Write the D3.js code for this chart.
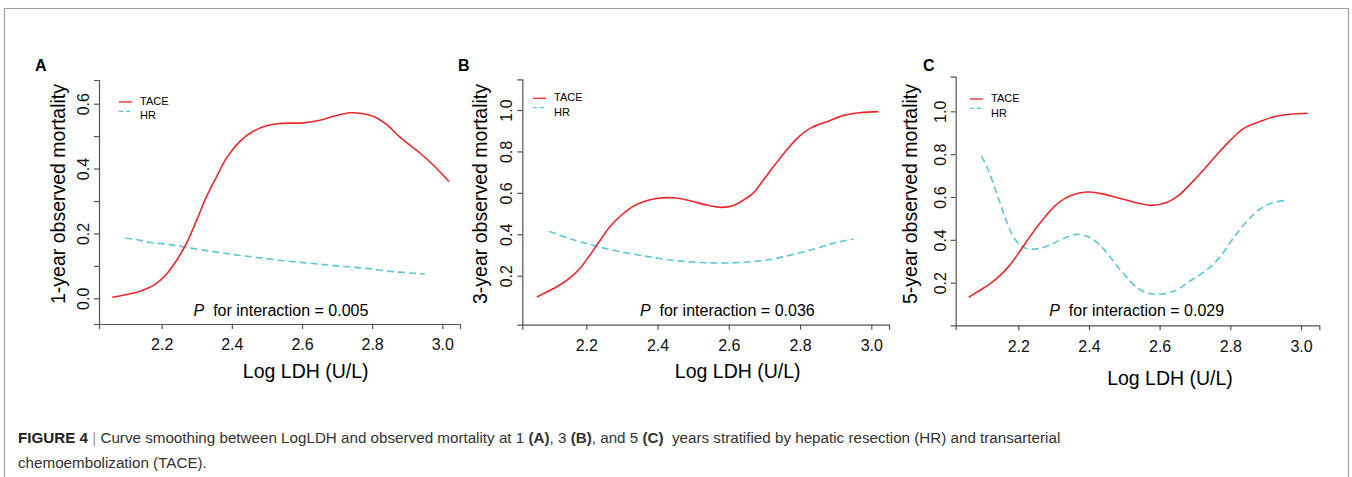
<!DOCTYPE html>
<html>
<head>
<meta charset="UTF-8">
<title>Curve smoothing between LogLDH and observed mortality</title>
<script src="https://d3js.org/d3.v7.min.js"></script>
<style>
body { margin: 0; background: #fff; }
svg { display: block; font-family: "Liberation Sans", Arial, sans-serif; }
</style>
</head>
<body>
<figure class="chart" style="margin:0"></figure>

<script type="text/javascript">

/* Data: Log LDH (U/L) vs observed mortality */
var xTicks = [2.2, 2.4, 2.6, 2.8, 3.0];
var yTicksA = [0, 0.1, 0.2, 0.3, 0.4, 0.5, 0.6];
var yTicksBC = [0.2, 0.4, 0.6, 0.8, 1.0];

var taceA = [[2.059,0.003],[2.100,0.012],[2.138,0.022],[2.181,0.043],[2.214,0.075],[2.243,0.118],
	[2.271,0.170],[2.300,0.242],[2.328,0.314],[2.357,0.376],[2.385,0.433],[2.423,0.484],[2.461,0.515],
	[2.499,0.532],[2.537,0.539],[2.604,0.541],[2.651,0.549],[2.689,0.561],[2.737,0.572],[2.770,0.570],
	[2.803,0.561],[2.841,0.536],[2.879,0.497],[2.936,0.448],[2.974,0.411],[3.019,0.360]];
var hrA = [[2.096,0.185],[2.134,0.180],[2.167,0.172],[2.214,0.167],[2.271,0.157],[2.347,0.144],
	[2.404,0.135],[2.471,0.126],[2.547,0.116],[2.623,0.108],[2.699,0.100],[2.784,0.092],[2.860,0.082],
	[2.950,0.075]];

var taceB = [[2.061,0.097],[2.089,0.121],[2.121,0.150],[2.154,0.190],[2.182,0.235],[2.210,0.299],
	[2.238,0.369],[2.266,0.436],[2.299,0.493],[2.327,0.530],[2.360,0.557],[2.397,0.573],[2.444,0.576],
	[2.491,0.562],[2.538,0.541],[2.580,0.530],[2.613,0.539],[2.641,0.565],[2.669,0.600],[2.697,0.662],
	[2.725,0.726],[2.762,0.806],[2.795,0.868],[2.833,0.916],[2.875,0.943],[2.922,0.974],[2.968,0.987],
	[3.020,0.992]];
var hrB = [[2.096,0.414],[2.145,0.383],[2.192,0.359],[2.257,0.330],[2.323,0.307],[2.388,0.288],
	[2.454,0.272],[2.519,0.264],[2.585,0.261],[2.650,0.266],[2.716,0.278],[2.781,0.303],[2.847,0.332],
	[2.903,0.361],[2.950,0.377]];

var taceC = [[2.060,0.132],[2.087,0.160],[2.115,0.189],[2.148,0.233],[2.176,0.282],[2.205,0.348],
	[2.233,0.415],[2.261,0.477],[2.290,0.535],[2.318,0.578],[2.351,0.608],[2.393,0.623],[2.431,0.617],
	[2.478,0.598],[2.525,0.577],[2.577,0.561],[2.620,0.574],[2.653,0.606],[2.686,0.659],[2.724,0.726],
	[2.761,0.796],[2.799,0.863],[2.837,0.919],[2.884,0.952],[2.922,0.974],[2.969,0.986],[3.019,0.991]];
var hrC = [[2.096,0.791],[2.115,0.726],[2.139,0.617],[2.162,0.508],[2.186,0.415],[2.209,0.371],
	[2.233,0.357],[2.266,0.362],[2.299,0.384],[2.337,0.412],[2.370,0.426],[2.403,0.410],[2.431,0.376],
	[2.459,0.321],[2.497,0.244],[2.535,0.178],[2.572,0.150],[2.610,0.147],[2.648,0.166],[2.686,0.208],
	[2.733,0.259],[2.771,0.321],[2.808,0.407],[2.846,0.485],[2.884,0.544],[2.922,0.575],[2.952,0.583]];

var pValues = ['0.005', '0.036', '0.029'];
var yTitles = ['1-year observed mortality', '3-year observed mortality', '5-year observed mortality'];

/* Global variables */
var W = 1352, H = 477;
var red = '#f0282e', cyan = '#5ec6dc', axisCol = '#555';

// per panel layout: pixel anchors for x=2.2/3.0 and two y ticks, axis extents
var panels = [
	{ label: 'A', tace: taceA, hr: hrA, yTicks: yTicksA, yRef: [0, 0.6], yPix: [298.3, 103.7],
	  xPix: [161.7, 442.3], left: 99, right: 460, top: 80, bottom: 324,
	  yTitleX: 58, xTitle: [305.7, 378], pX: 281, labelX: 35, legX: 119, legY: 102, legGap: 14 },
	{ label: 'B', tace: taceB, hr: hrB, yTicks: yTicksBC, yRef: [0.2, 1.0], yPix: [275.7, 110],
	  xPix: [586.3, 871.3], left: 522.3, right: 889, top: 79.3, bottom: 324.7,
	  yTitleX: 480, xTitle: [737.7, 378], pX: 727.3, labelX: 458, legX: 533, legY: 98.3, legGap: 15 },
	{ label: 'C', tace: taceC, hr: hrC, yTicks: yTicksBC, yRef: [0.2, 1.0], yPix: [282.7, 111.3],
	  xPix: [1018.3, 1301], left: 955.7, right: 1319.3, top: 76.7, bottom: 325.3,
	  yTitleX: 910, xTitle: [1170, 384.5], pX: 1136.7, labelX: 923, legX: 970, legY: 99, legGap: 15 }
];

/* Functions */

function draw_canvas() {
	var svg = d3.select('figure')
		.append('svg')
		.attr('width', W)
		.attr('height', H)

	// figure frame (no bottom edge)
	svg.append('path')
		.attr('d', 'M4.5,' + H + 'V8.5H1348.5V' + H)
		.style('fill', 'none')
		.style('stroke', '#a0a0a0')
		.style('stroke-width', 1.2)
	return svg
}

function full_scale(refDomain, refRange, a, b) {
	var s = d3.scaleLinear().domain(refDomain).range(refRange)
	return d3.scaleLinear().domain([s.invert(a), s.invert(b)]).range([a, b])
}

function draw_panel(svg, p, i) {
	var x = full_scale([2.2, 3.0], p.xPix, p.left, p.right)
	var y = full_scale(p.yRef, p.yPix, p.bottom, p.top)
	var g = svg.append('g')

	var xAxis = g.append('g')
		.attr('transform', 'translate(0,' + p.bottom + ')')
		.call(d3.axisBottom(x).tickValues(xTicks).tickSizeOuter(0).tickSize(5).tickPadding(10)
			.tickFormat(d3.format('.1f')))
	var yAxis = g.append('g')
		.attr('transform', 'translate(' + p.left + ',0)')
		.call(d3.axisLeft(y).tickValues(p.yTicks).tickSizeOuter(0).tickSize(5)
			.tickFormat(function(d) { return (Math.round(d * 10) % 2 == 0) ? d3.format('.1f')(d) : ''; }))

	g.selectAll('.domain, .tick line').style('stroke', axisCol).style('stroke-width', 1.2)
	g.selectAll('.tick text').style('font-size', '16px').style('fill', '#111')
		.style('font-family', '"Liberation Sans", Arial, sans-serif')
	yAxis.selectAll('.tick text')
		.attr('x', null).attr('dy', null)
		.attr('transform', 'translate(-15.7,0) rotate(-90)')
		.attr('dominant-baseline', 'central')
		.style('text-anchor', 'middle')

	// axis titles
	g.append('text')
		.attr('transform', 'translate(' + p.yTitleX + ',194) rotate(-90)')
		.attr('text-anchor', 'middle')
		.attr('dominant-baseline', 'central')
		.style('font-size', '19.5px')
		.text(yTitles[i])
	g.append('text')
		.attr('x', p.xTitle[0]).attr('y', p.xTitle[1])
		.attr('text-anchor', 'middle')
		.style('font-size', '19.5px')
		.text('Log LDH (U/L)')

	// curves
	var line = d3.line()
		.x(function(d) { return x(d[0]); })
		.y(function(d) { return y(d[1]); })
		.curve(d3.curveCatmullRom)
	g.append('path').datum(p.hr).attr('d', line)
		.style('fill', 'none').style('stroke', cyan).style('stroke-width', 1.6)
		.style('stroke-dasharray', '7,4')
	g.append('path').datum(p.tace).attr('d', line)
		.style('fill', 'none').style('stroke', red).style('stroke-width', 1.6)

	// legend
	var leg = [['TACE', red, null], ['HR', cyan, '4,3']]
	leg.forEach(function(l, k) {
		g.append('line')
			.attr('x1', p.legX).attr('x2', p.legX + 13)
			.attr('y1', p.legY + k * 9.3).attr('y2', p.legY + k * 9.3)
			.style('stroke', l[1]).style('stroke-width', 1.3)
			.style('stroke-dasharray', l[2])
		g.append('text')
			.attr('x', p.legX + 21).attr('y', p.legY - 1.5 + k * p.legGap)
			.attr('dominant-baseline', 'central')
			.style('font-size', '11px')
			.text(l[0])
	})

	// interaction p-value
	var pt = g.append('text')
		.attr('x', p.pX).attr('y', 310)
		.attr('text-anchor', 'middle')
		.attr('dominant-baseline', 'central')
		.style('font-size', '16px')
	pt.append('tspan').style('font-style', 'italic').text('P')
	pt.append('tspan').text('  for interaction = ' + pValues[i])
		.attr('xml:space', 'preserve').style('white-space', 'pre')

	// panel letter
	g.append('text')
		.attr('x', p.labelX).attr('y', 71)
		.style('font-size', '16px').style('font-weight', 'bold')
		.text(p.label)
}

function draw_caption(svg) {
	var c1 = svg.append('text').attr('x', 18).attr('y', 443)
		.style('font-size', '15.2px').style('fill', '#333')
	c1.append('tspan').style('font-weight', 'bold').style('fill', '#222').text('FIGURE 4')
	c1.append('tspan').style('fill', '#999').text(' | ')
	c1.append('tspan').text('Curve smoothing between LogLDH and observed mortality at 1 ')
	c1.append('tspan').style('font-weight', 'bold').text('(A)')
	c1.append('tspan').text(', 3 ')
	c1.append('tspan').style('font-weight', 'bold').text('(B)')
	c1.append('tspan').text(', and 5 ')
	c1.append('tspan').style('font-weight', 'bold').text('(C)')
	c1.append('tspan').text('  years stratified by hepatic resection (HR) and transarterial')
		.style('white-space', 'pre')
	svg.append('text').attr('x', 18).attr('y', 468)
		.style('font-size', '15.2px').style('fill', '#333')
		.text('chemoembolization (TACE).')
}

/* Main code */
var svg = draw_canvas()
panels.forEach(function(p, i) { draw_panel(svg, p, i) })
draw_caption(svg)

</script>
</body>
</html>
